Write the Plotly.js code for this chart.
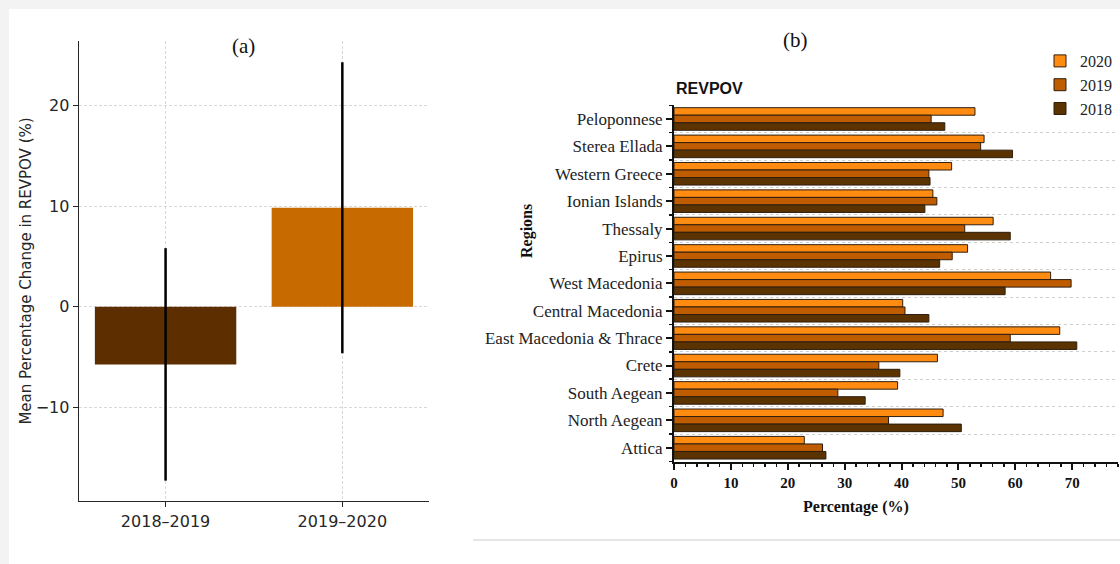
<!DOCTYPE html>
<html>
<head>
<meta charset="utf-8">
<script src="https://cdn.plot.ly/plotly-3.0.1.min.js"></script>
<style>html,body{margin:0;padding:0;background:#fff;overflow:hidden;}#chart{width:1120px;height:564px;}</style>
</head>
<body>
<div id="chart"></div>
<script>
// Panel (a) data
const periods = ['2018–2019', '2019–2020'];
const meanChange = [-5.73, 9.84];
const errChange = [11.55, 14.45];
const periodColors = ['#5C2E00', '#C76B00'];

// Panel (b) data
const regions = ['Peloponnese','Sterea Ellada','Western Greece','Ionian Islands','Thessaly','Epirus','West Macedonia','Central Macedonia','East Macedonia & Thrace','Crete','South Aegean','North Aegean','Attica'];
const v2020 = [52.9,54.5,48.8,45.5,56.1,51.6,66.2,40.2,67.8,46.3,39.3,47.3,22.9];
const v2019 = [45.2,53.9,44.8,46.2,51.1,48.9,69.8,40.6,59.1,36.0,28.8,37.7,26.1];
const v2018 = [47.6,59.5,45.0,44.1,59.1,46.7,58.2,44.8,70.8,39.7,33.6,50.5,26.7];
const years = ['2020', '2019', '2018'];
const yearColors = ['#FF8C11', '#C05C00', '#5B3300'];

const idx = regions.map((r, i) => i);
const serif = 'Liberation Serif, Times New Roman, serif';
const sans = 'DejaVu Sans, sans-serif';

const traces = [
  {
    type: 'bar', x: periods, y: meanChange, xaxis: 'x', yaxis: 'y',
    marker: {color: periodColors},
    width: 0.8,
    error_y: {type: 'data', array: errChange, visible: true, color: '#000', thickness: 2.5, width: 0},
    showlegend: false, hoverinfo: 'x+y'
  }
];
[v2020, v2019, v2018].forEach((vals, k) => {
  traces.push({
    type: 'bar', orientation: 'h', name: years[k],
    x: vals, y: idx, xaxis: 'x2', yaxis: 'y2',
    marker: {color: yearColors[k], line: {color: '#2e1e10', width: 1}}
  });
});

const layout = {
  width: 1120, height: 564,
  margin: {l: 0, r: 0, t: 0, b: 0},
  paper_bgcolor: '#fff', plot_bgcolor: 'rgba(0,0,0,0)',
  barmode: 'group', bargap: 0.175, bargroupgap: 0,
  showlegend: true,
  legend: {
    x: 1040/1120, y: 1 - 44/564, xanchor: 'left', yanchor: 'top',
    font: {family: serif, size: 16, color: '#222'},
    tracegroupgap: 0, itemwidth: 30, bgcolor: 'rgba(0,0,0,0)'
  },
  xaxis: {
    domain: [0.0705, 0.383], anchor: 'y', type: 'category',
    range: [-0.49, 1.49],
    showline: true, linecolor: '#262626', linewidth: 1.3,
    ticks: 'outside', ticklen: 5, tickcolor: '#262626',
    showgrid: true, gridcolor: '#d8d8d8', griddash: '3px,2px', gridwidth: 1,
    tickfont: {family: sans, size: 16, color: '#262626'},
    zeroline: false
  },
  yaxis: {
    domain: [0.1117, 0.9273], anchor: 'x',
    range: [-19.3, 26.4], dtick: 10, tick0: 0,
    showline: true, linecolor: '#262626', linewidth: 1.3,
    ticks: 'outside', ticklen: 5, tickcolor: '#262626',
    showgrid: true, gridcolor: '#d8d8d8', griddash: '3px,2px', gridwidth: 1,
    zeroline: false,
    tickfont: {family: sans, size: 16, color: '#262626'},
    title: {text: 'Mean Percentage Change in REVPOV (%)', font: {family: sans, size: 15, color: '#262626'}, standoff: 0}
  },
  xaxis2: {
    domain: [0.6018, 0.998], anchor: 'y2',
    range: [0, 78], dtick: 10, tick0: 0,
    showline: true, linecolor: '#111', linewidth: 2,
    ticks: 'outside', ticklen: 6, tickwidth: 2, tickcolor: '#111',
    minor: {dtick: 2, tick0: 0, ticks: 'outside', ticklen: 3, tickwidth: 1.5, tickcolor: '#111', showgrid: false},
    showgrid: false, zeroline: false,
    tickfont: {family: serif, size: 15, color: '#111', weight: 'bold'}
  },
  yaxis2: {
    domain: [0.1814, 0.8138], anchor: 'x2',
    range: [12.51, -0.51],
    tickvals: idx, ticktext: regions,
    showline: true, linecolor: '#111', linewidth: 2,
    ticks: 'outside', ticklen: 6, tickwidth: 2, tickcolor: '#111',
    minor: {dtick: 1, tick0: 0.5, ticks: 'outside', ticklen: 3, tickwidth: 1.5, tickcolor: '#111',
            showgrid: true, gridcolor: '#cfcfcf', griddash: 'dot', gridwidth: 1},
    showgrid: false, zeroline: false,
    tickfont: {family: serif, size: 17, color: '#222'}
  },
  annotations: [
    {text: '(a)', xref: 'paper', yref: 'paper', x: 243/1120, y: 1 - 46/564, xanchor: 'center', yanchor: 'middle', showarrow: false,
     font: {family: serif, size: 21, color: '#111'}},
    {text: '(b)', xref: 'paper', yref: 'paper', x: 795/1120, y: 1 - 40/564, xanchor: 'center', yanchor: 'middle', showarrow: false,
     font: {family: serif, size: 21, color: '#111'}},
    {text: 'REVPOV', xref: 'paper', yref: 'paper', x: 674/1120, y: 1 - 88/564, xanchor: 'left', yanchor: 'middle', showarrow: false,
     font: {family: 'Liberation Sans, Arial, sans-serif', size: 16, color: '#111', weight: 'bold'}},
    {text: 'Percentage (%)', xref: 'paper', yref: 'paper', x: 856/1120, y: 1 - 507/564, xanchor: 'center', yanchor: 'middle', showarrow: false,
     font: {family: serif, size: 16, color: '#111', weight: 'bold'}},
    {text: 'Regions', xref: 'paper', yref: 'paper', x: 527/1120, y: 1 - 231/564, xanchor: 'center', yanchor: 'middle', textangle: -90, showarrow: false,
     font: {family: serif, size: 16, color: '#111', weight: 'bold'}}
  ],
  shapes: [
    {type: 'rect', xref: 'paper', yref: 'paper', x0: 0, x1: 1, y0: 1 - 9/564, y1: 1, fillcolor: '#f3f3f3', line: {width: 0}, layer: 'below'},
    {type: 'rect', xref: 'paper', yref: 'paper', x0: 0, x1: 9/1120, y0: 0, y1: 1, fillcolor: '#f3f3f3', line: {width: 0}, layer: 'below'},
    {type: 'line', xref: 'paper', yref: 'paper', x0: 473/1120, x1: 1, y0: 1 - 540/564, y1: 1 - 540/564, line: {color: '#e6e6e6', width: 2}}
  ]
};

Plotly.newPlot('chart', traces, layout, {staticPlot: true, displayModeBar: false});
</script>
</body>
</html>
